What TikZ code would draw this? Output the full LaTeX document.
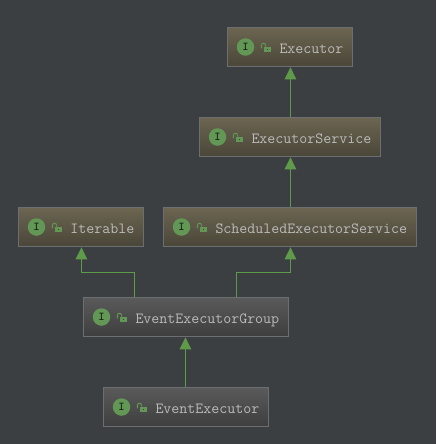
\documentclass[tikz,border=0pt]{standalone}
\usetikzlibrary{arrows.meta,calc}
\definecolor{ideback}{HTML}{3C3F41}
\definecolor{boxline}{HTML}{6C6F71}
\definecolor{idegreen}{HTML}{5F9A4B}
\definecolor{icongreen}{HTML}{629755}
\definecolor{labelgray}{HTML}{BBBBBB}
\definecolor{tanTop}{HTML}{6B6551}
\definecolor{tanBottom}{HTML}{4A4638}
\definecolor{grayTop}{HTML}{5A5A5A}
\definecolor{grayBottom}{HTML}{3E3E3E}
\tikzset{
    classbox/.style={draw=boxline, line width=1pt, anchor=north west, minimum height=39pt,
        inner xsep=8.5pt, inner ysep=0pt, text=labelgray,
        font=\fontsize{15.5pt}{17pt}\ttfamily},
    tanbox/.style={classbox, top color=tanTop, bottom color=tanBottom},
    graybox/.style={classbox, top color=grayTop, bottom color=grayBottom},
    extends/.style={draw=idegreen, line width=0.9pt, shorten >=0.3pt, -{Triangle[width=11.5pt,length=12pt]}},
    ibadge/.style={circle, fill=icongreen, minimum size=17.5pt, inner sep=0pt, text=black!75!icongreen,
        font=\fontsize{12pt}{12pt}\ttfamily\bfseries},
}
\newcommand{\boxtext}[1]{\hspace*{43.5pt}\rlap{\raisebox{-3pt}[0.7em][0.2em]{#1}}}
\begin{document}
\begin{tikzpicture}[x=1pt, y=-1pt]
    \useasboundingbox[fill=ideback] (0,0) rectangle (436,444);
    \node[tanbox, text width=8*8pt+43.5pt] (executor) at (227,27) {\boxtext{Executor}};
    \node[tanbox, text width=15*8pt+43.5pt] (service) at (199,117) {\boxtext{ExecutorService}};
    \node[tanbox, text width=8*8pt+43.5pt] (iterable) at (18,207) {\boxtext{Iterable}};
    \node[tanbox, text width=24*8pt+43.5pt] (scheduled) at (163,207) {\boxtext{ScheduledExecutorService}};
    \node[graybox, text width=18*8pt+43.5pt] (group) at (83,297) {\boxtext{EventExecutorGroup}};
    \node[graybox, text width=13*8pt+43.5pt] (eventexec) at (103,387) {\boxtext{EventExecutor}};
    % badge and lock
    \foreach \n in {executor,service,iterable,scheduled,group,eventexec} {
        \node[ibadge] (\n badge) at ($(\n.west)+(18.5,0)$) {I};
        \coordinate (\n lock) at ($(\n.west)+(36.7,0)$);
        \fill[icongreen] ($(\n lock)+(0,0.2)$) rectangle ($(\n lock)+(7,5.2)$);
        \fill[ideback] ($(\n lock)+(3,2)$) rectangle ($(\n lock)+(4.2,3.4)$);
        \draw[icongreen, line width=0.9pt] ($(\n lock)+(2,0.2)$) -- ($(\n lock)+(2,-1.6)$)
            arc[start angle=0, end angle=-180, radius=2.2] -- ++(0,3);
    }
    \coordinate (groupleft) at ($(group.north west)+(51,0)$);
    \coordinate (groupright) at ($(group.north west)+(153,0)$);
    \draw[extends] ($(service.north)+(0.7,0)$) -- ($(executor.south)+(0.7,0)$);
    \draw[extends] ($(scheduled.north)+(0.7,0)$) -- ($(service.south)+(0.7,0)$);
    \draw[extends] ($(eventexec.north)+(-0.3,0)$) -- ($(group.south)+(-0.3,0)$);
    \draw[extends] (groupleft) -- ++(0,-24.5) -| ($(iterable.south)+(0.7,0)$);
    \draw[extends] (groupright) -- ++(0,-24.5) -| ($(scheduled.south)+(0.7,0)$);
\end{tikzpicture}
\end{document}
